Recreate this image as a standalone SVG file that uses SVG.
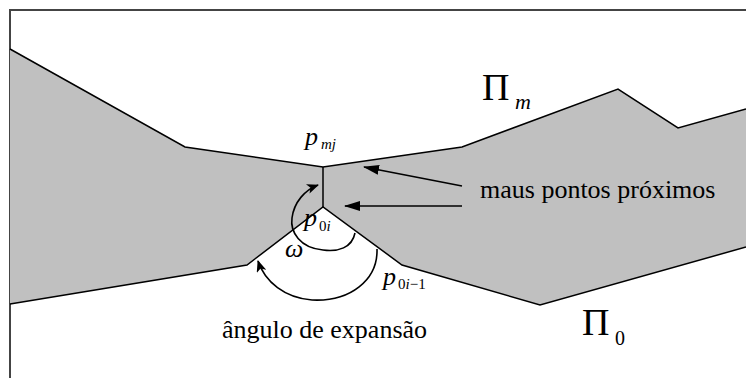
<svg xmlns="http://www.w3.org/2000/svg" width="746" height="378" viewBox="0 0 746 378">
<defs>
<style>
.edge{fill:none;stroke:#000;stroke-width:1.5;stroke-linejoin:miter}
.arr{fill:none;stroke:#000;stroke-width:1.6}
.t{font-family:'Liberation Serif','Times New Roman',serif;fill:#000}
.i{font-style:italic}
</style>
<marker id="tri" viewBox="0 0 16 10" refX="15" refY="5" markerWidth="16" markerHeight="10" markerUnits="userSpaceOnUse" orient="auto">
<path d="M0,0 L16,5 L0,10 Z" fill="#000"/>
</marker>
<marker id="barb" viewBox="0 0 12 10" refX="11" refY="5" markerWidth="12" markerHeight="10" markerUnits="userSpaceOnUse" orient="auto">
<path d="M0,0 L12,5 L0,10 L3,5 Z" fill="#000"/>
</marker>
</defs>
<rect width="746" height="378" fill="#fff"/>
<g id="frame">
<path d="M10,378 L10,10 L746,10" fill="none" stroke="#444" stroke-width="2"/>
</g>
<g id="region">
<path d="M10,49 L185,147 L323,167 L462,147 L618,89 L678,128 L746,109 L746,247 L540,305 L402,265 L323,207 L247,265 L10,304 Z" fill="#c0c0c0"/>
<path class="edge" d="M10,49 L185,147 L323,167 L462,147 L618,89 L678,128 L746,109"/>
<path class="edge" d="M746,247 L540,305 L402,265 L323,207 L247,265 L10,304"/>
<path class="edge" d="M323,167 L323,207" stroke-width="2.2"/>
</g>
<g id="connectors">
<path class="arr" d="M462,186 L364,167" marker-end="url(#tri)"/>
<path class="arr" d="M462,206 L345,206" marker-end="url(#tri)"/>
<path class="arr" d="M355,233 C352,248 338,252 323,250 C300,248 290,232 292,218 C294,202 305,190 318,185" marker-end="url(#barb)"/>
<path class="arr" d="M377,249 C378,280 350,302 312,300 C285,298 265,282 258,261" marker-end="url(#barb)"/>
</g>
<g id="labels" font-family="Liberation Serif, Times New Roman, serif">
<text class="t" x="482" y="100" font-size="38">Π</text>
<text class="t i" x="515" y="109" font-size="22">m</text>
<text class="t" x="582" y="335" font-size="38">Π</text>
<text class="t" x="615" y="345" font-size="20">0</text>
<text class="t i" x="305" y="145" font-size="26">p</text>
<text class="t i" x="321" y="149" font-size="15">mj</text>
<text class="t i" x="304" y="226" font-size="26">p</text>
<text class="t" x="319" y="231" font-size="15">0<tspan class="i">i</tspan></text>
<text class="t i" x="285" y="257" font-size="26">ω</text>
<text class="t i" x="383" y="285" font-size="26">p</text>
<text class="t" x="398" y="289" font-size="15">0<tspan class="i">i</tspan>−1</text>
<text class="t" x="480" y="198" font-size="26">maus pontos próximos</text>
<text class="t" x="222" y="338" font-size="26">ângulo de expansão</text>
</g>
</svg>
